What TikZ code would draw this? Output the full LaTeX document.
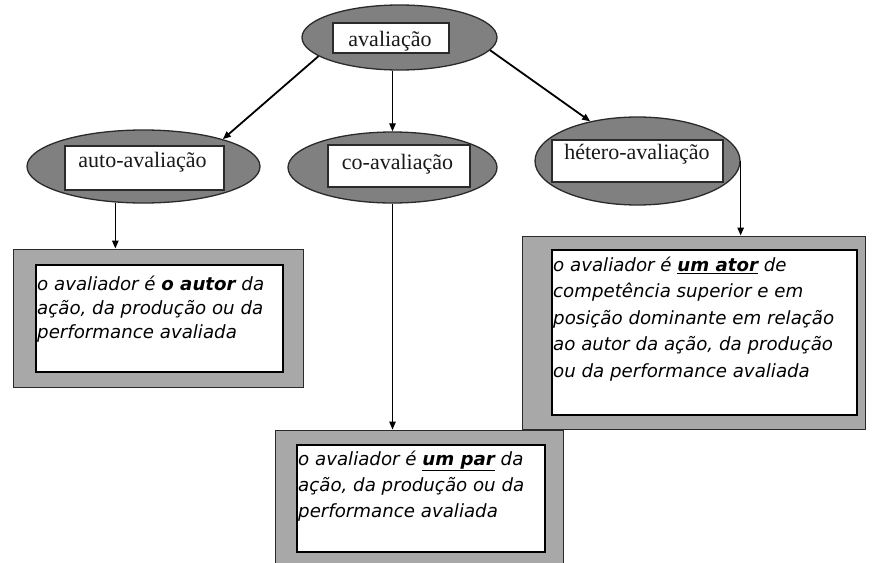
\documentclass[tikz,border=0pt]{standalone}
\usepackage{fontspec}
\setmainfont{Liberation Serif}
\newfontfamily\boxfont{DejaVu Sans}
\usetikzlibrary{shapes.geometric,arrows.meta}
\definecolor{ellgray}{HTML}{808080}
\definecolor{boxgray}{HTML}{A8A8A8}
\definecolor{edge}{HTML}{2A2A2A}
\tikzset{
  ell/.style={ellipse, draw=edge, line width=1.3pt, fill=ellgray, inner sep=0pt},
  lab/.style={rectangle, draw=edge, line width=1.3pt, fill=white, inner sep=0pt},
  labtext/.style={font=\fontsize{22}{24}\selectfont, anchor=base, inner sep=0pt, text=black!90},
  outerbox/.style={rectangle, draw=edge, line width=1pt, fill=boxgray, inner sep=0pt},
  innerbox/.style={rectangle, draw=black, line width=1.4pt, fill=white, inner sep=0pt},
  desc/.style={anchor=north west, align=left, inner sep=0pt, text=black},
  arr/.style={-{Triangle[length=8pt,width=6.5pt]}, line width=1.8pt},
  arrthin/.style={-{Triangle[length=8pt,width=6.5pt]}, line width=1.2pt},
}
\begin{document}
\begin{tikzpicture}[x=1pt,y=-1pt]
\useasboundingbox (0,0) rectangle (872,562);
% ellipses
\node[ell, minimum width=195pt, minimum height=65pt] (top) at (399.5,37.5) {};
\node[ell, minimum width=233pt, minimum height=73pt] (auto) at (143.5,166.5) {};
\node[ell, minimum width=209pt, minimum height=71pt] (co) at (392.5,167.5) {};
\node[ell, minimum width=205pt, minimum height=88pt] (het) at (637.5,161) {};
% label rectangles
\node[lab, minimum width=116pt, minimum height=30pt] (topr) at (391,38) {};
\node[lab, minimum width=159pt, minimum height=44pt] (autor) at (144.5,168) {};
\node[lab, minimum width=142pt, minimum height=42pt] (cor) at (399,166) {};
\node[lab, minimum width=171pt, minimum height=42pt] (hetr) at (637.5,161) {};
\node[labtext] (topt) at (390,46) {avaliação};
\node[labtext] (autot) at (142.5,167.5) {auto-avaliação};
\node[labtext] (cot) at (397.5,169) {co-avaliação};
\node[labtext] (hett) at (637,159) {hétero-avaliação};
% outer boxes
\node[outerbox, minimum width=290pt, minimum height=138pt] (autoout) at (158,318) {};
\node[innerbox, minimum width=247pt, minimum height=107pt] (autoin) at (159.5,318.5) {};
\node[outerbox, minimum width=343pt, minimum height=193pt] (hetout) at (693.5,332.5) {};
\node[innerbox, minimum width=305pt, minimum height=165pt] (hetin) at (704.5,332.5) {};
\node[outerbox, minimum width=288pt, minimum height=136pt] (coout) at (419,498) {};
\node[innerbox, minimum width=248pt, minimum height=107pt] (coin) at (421,498.5) {};
% texts
\node[desc, font=\boxfont\itshape\fontsize{18.2}{24}\selectfont] (autod) at (37,275.5)
  {o avaliador é \textbf{o autor} da\\ação, da produção ou da\\performance avaliada};
\node[desc, font=\boxfont\itshape\fontsize{18.2}{26.5}\selectfont] (hetd) at (553,256.5)
  {o avaliador é \underline{\textbf{um ator}} de\\competência superior e em\\posição dominante em relação\\ao autor da ação, da produção\\ou da performance avaliada};
\node[desc, font=\boxfont\itshape\fontsize{18.2}{26}\selectfont] (cod) at (298,450.5)
  {o avaliador é \underline{\textbf{um par}} da\\ação, da produção ou da\\performance avaliada};
% connectors
\draw[arr] (top.193) -- (auto.19);
\draw[arrthin] (co.north |- top.south) -- (co.north);
\draw[arr] (top.352) -- (het.140);
\draw[arrthin] (auto.232) -- (auto.232 |- autoout.north);
\draw[arrthin] (co.south) -- (co.south |- coout.north);
\draw[arrthin] (het.east) -- (het.east |- hetout.north);
\end{tikzpicture}
\end{document}
